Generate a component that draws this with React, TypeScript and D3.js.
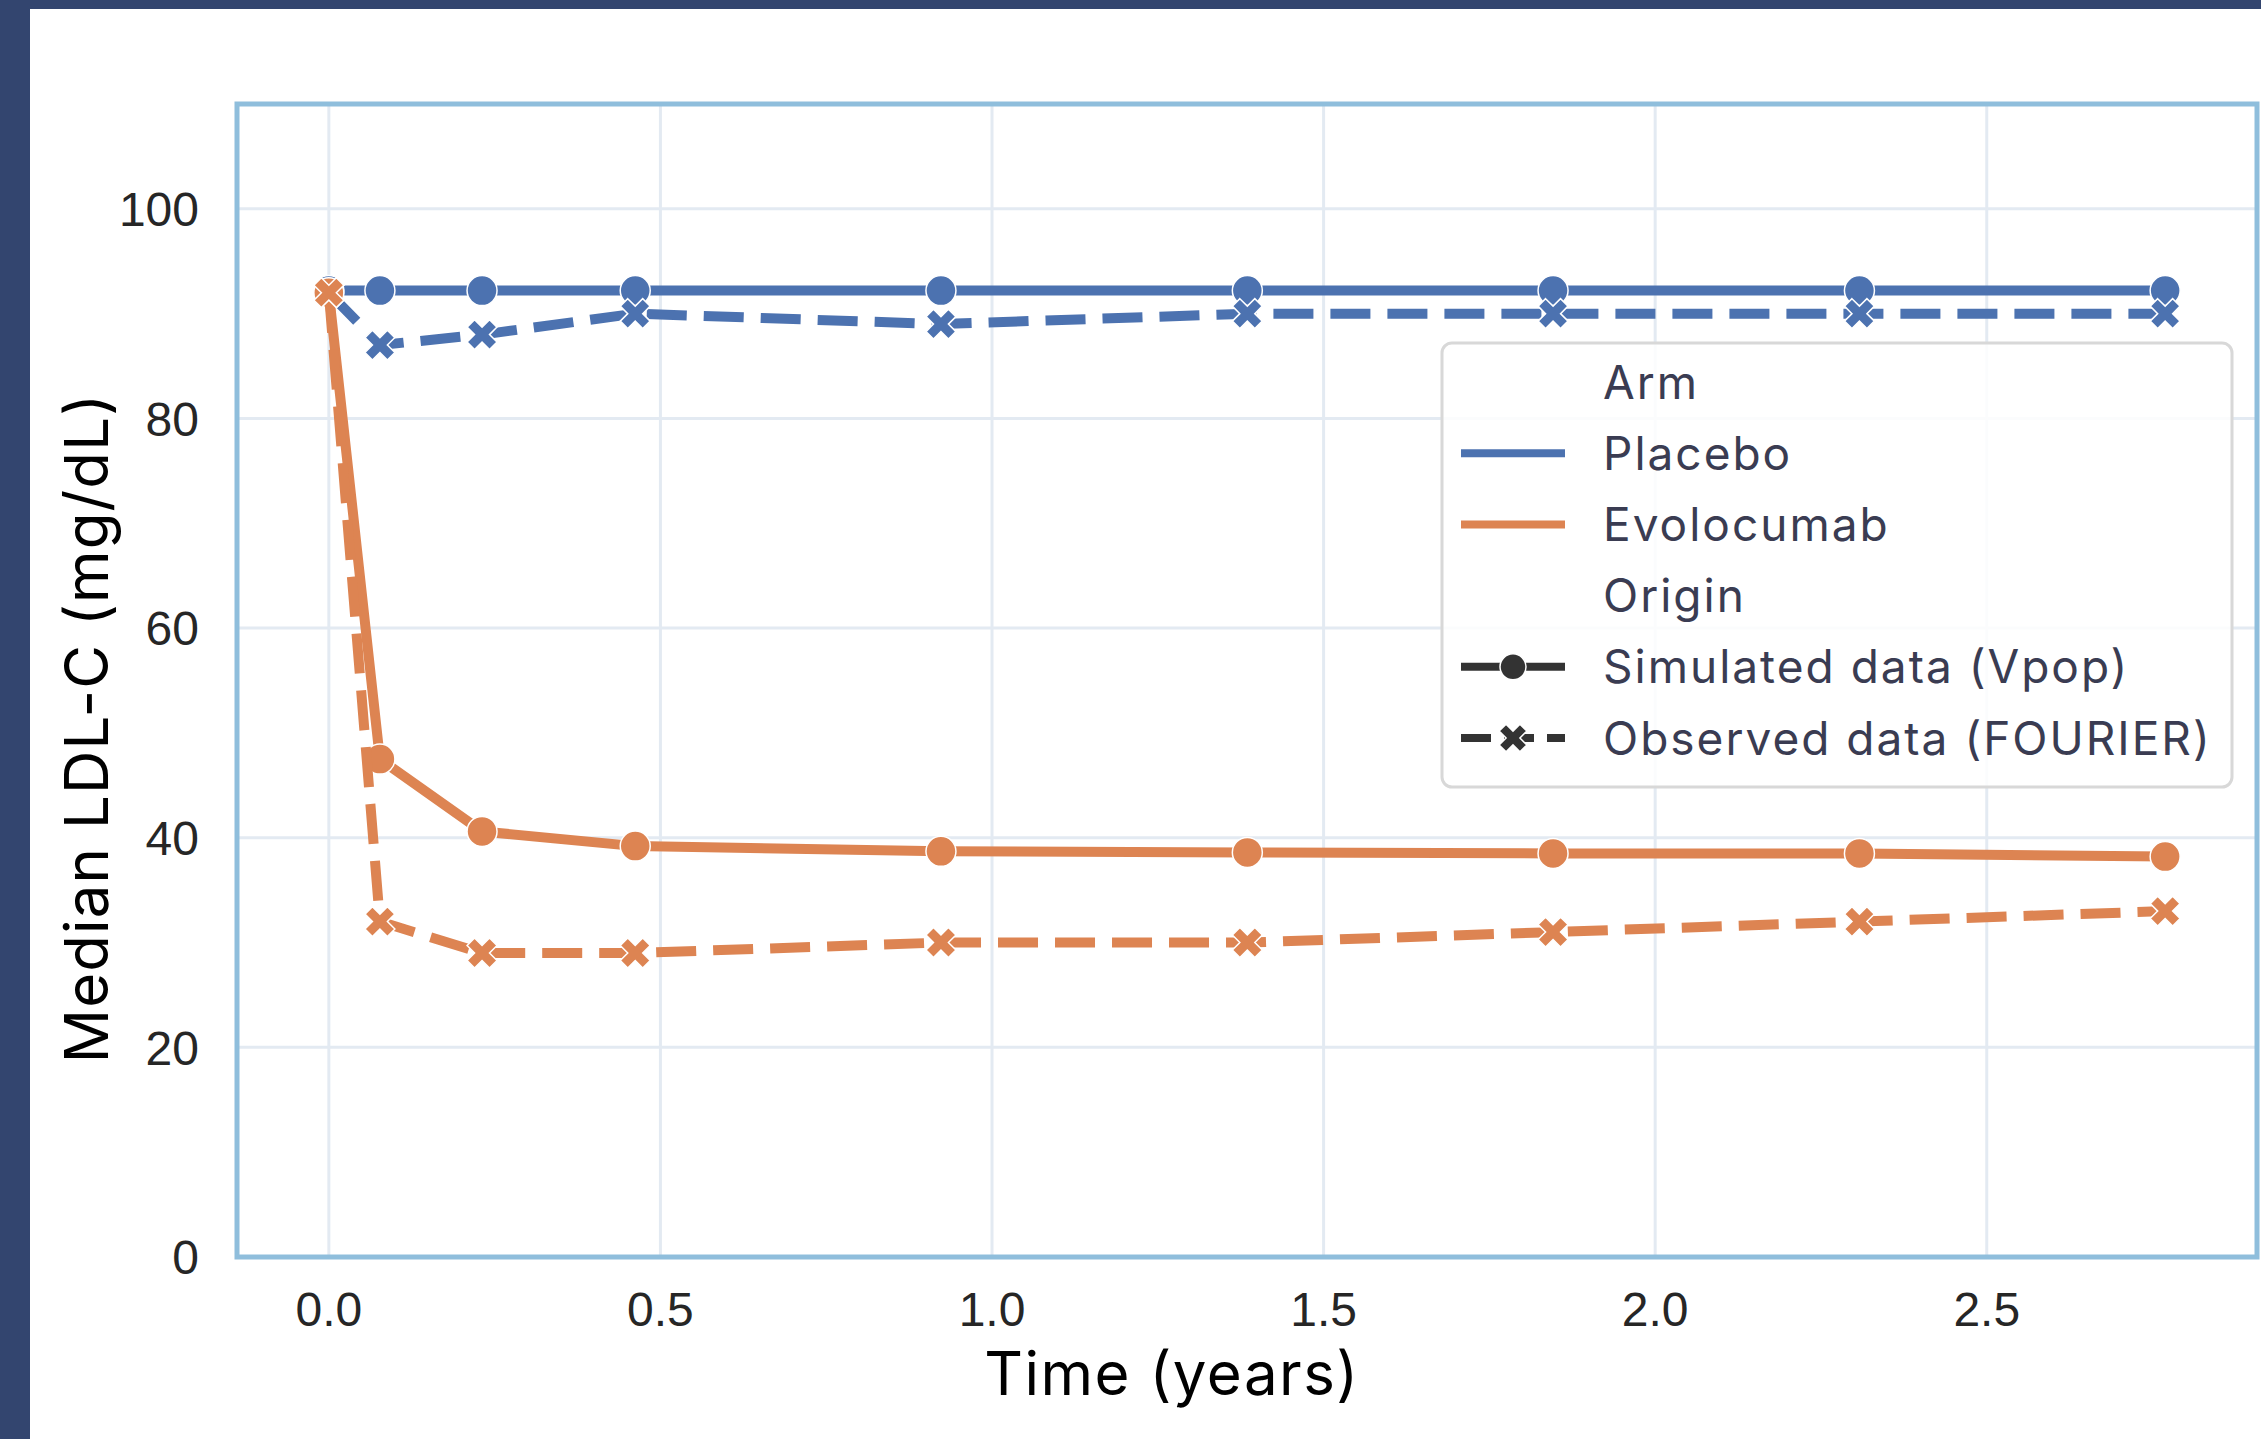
import React, { useRef, useEffect } from 'react';
import * as d3 from 'd3';

// time points (years) — 0, 4, 12, 24, 48, 72, 96, 120, 144 weeks
const timeYears = [0, 0.077, 0.231, 0.462, 0.923, 1.385, 1.846, 2.308, 2.769];

const placeboSim = [92.2, 92.2, 92.2, 92.2, 92.2, 92.2, 92.2, 92.2, 92.2];
const placeboObs = [92, 87, 88, 90, 89, 90, 90, 90, 90];
const evoSim = [92, 47.5, 40.6, 39.2, 38.7, 38.6, 38.5, 38.5, 38.2];
const evoObs = [92, 32, 29, 29, 30, 30, 31, 32, 33];

const xTicks = [0, 0.5, 1.0, 1.5, 2.0, 2.5];
const yTicks = [0, 20, 40, 60, 80, 100];

const legendRows = ['Arm', 'Placebo', 'Evolocumab', 'Origin', 'Simulated data (Vpop)', 'Observed data (FOURIER)'];

const BLUE = '#4c72b0';
const ORANGE = '#dd8452';

const App = () => {
  const ref = useRef(null);

  useEffect(() => {
    const svg = d3.select(ref.current);
    svg.selectAll('*').remove();

    const W = 2261, H = 1439;
    svg.attr('width', W).attr('height', H);

    // page background: navy strip on top and left
    svg.append('rect').attr('width', W).attr('height', H).attr('fill', '#33456f');
    svg.append('rect').attr('x', 30).attr('y', 9).attr('width', W - 30).attr('height', H - 9).attr('fill', '#ffffff');

    const left = 237, right = 2257, top = 104, bottom = 1257;
    const x = d3.scaleLinear().domain([-0.1385, 2.9075]).range([left, right]);
    const y = d3.scaleLinear().domain([0, 110]).range([bottom, top]);

    // grid
    const grid = svg.append('g').attr('stroke', '#e3eaf2').attr('stroke-width', 3);
    xTicks.forEach((t) => {
      grid.append('line').attr('x1', x(t)).attr('x2', x(t)).attr('y1', top).attr('y2', bottom);
    });
    yTicks.forEach((t) => {
      grid.append('line').attr('x1', left).attr('x2', right).attr('y1', y(t)).attr('y2', y(t));
    });

    // series
    const series = [
      { vals: placeboSim, color: BLUE, dashed: false },
      { vals: placeboObs, color: BLUE, dashed: true },
      { vals: evoSim, color: ORANGE, dashed: false },
      { vals: evoObs, color: ORANGE, dashed: true },
    ];

    const line = d3.line<number>()
      .x((d, i) => x(timeYears[i]))
      .y((d) => y(d));

    const xMark = d3.symbol().type(d3.symbolCross).size(560);

    series.forEach((s) => {
      const g = svg.append('g');
      g.append('path')
        .attr('d', line(s.vals))
        .attr('fill', 'none')
        .attr('stroke', s.color)
        .attr('stroke-width', 10)
        .attr('stroke-linejoin', 'round')
        .attr('stroke-dasharray', s.dashed ? '40,17' : null);

      s.vals.forEach((v, i) => {
        if (s.dashed) {
          g.append('path')
            .attr('d', xMark())
            .attr('transform', `translate(${x(timeYears[i])},${y(v)}) rotate(45)`)
            .attr('fill', s.color)
            .attr('stroke', '#ffffff')
            .attr('stroke-width', 1.5);
        } else {
          g.append('circle')
            .attr('cx', x(timeYears[i]))
            .attr('cy', y(v))
            .attr('r', 15)
            .attr('fill', s.color)
            .attr('stroke', '#ffffff')
            .attr('stroke-width', 1.5);
        }
      });
    });

    // frame
    svg.append('rect')
      .attr('x', left).attr('y', top)
      .attr('width', right - left).attr('height', bottom - top)
      .attr('fill', 'none')
      .attr('stroke', '#8fbedc')
      .attr('stroke-width', 5);

    // tick labels
    const tickFont = '"Liberation Sans", Arial, sans-serif';
    yTicks.forEach((t) => {
      svg.append('text')
        .attr('x', 199).attr('y', y(t))
        .attr('dy', '0.36em')
        .attr('text-anchor', 'end')
        .attr('font-family', tickFont)
        .attr('font-size', 48)
        .attr('fill', '#262626')
        .text(t);
    });
    xTicks.forEach((t) => {
      svg.append('text')
        .attr('x', x(t)).attr('y', 1309)
        .attr('dy', '0.36em')
        .attr('text-anchor', 'middle')
        .attr('font-family', tickFont)
        .attr('font-size', 48)
        .attr('fill', '#262626')
        .text(t.toFixed(1));
    });

    // axis labels
    svg.append('text')
      .attr('x', 1172).attr('y', 1373)
      .attr('dy', '0.36em')
      .attr('text-anchor', 'middle')
      .attr('font-family', 'Inter, sans-serif')
      .attr('font-size', 60)
      .attr('letter-spacing', 1.5)
      .attr('fill', '#000')
      .text('Time (years)');
    svg.append('text')
      .attr('transform', `translate(86,728) rotate(-90)`)
      .attr('dy', '0.36em')
      .attr('text-anchor', 'middle')
      .attr('font-family', 'Inter, sans-serif')
      .attr('font-size', 60)
      .attr('letter-spacing', 1.1)
      .attr('fill', '#000')
      .text('Median LDL-C (mg/dL)');

    // legend
    const lg = svg.append('g');
    lg.append('rect')
      .attr('x', 1442).attr('y', 343)
      .attr('width', 790).attr('height', 444)
      .attr('rx', 10)
      .attr('fill', '#ffffff').attr('fill-opacity', 0.85)
      .attr('stroke', '#d8d8d8').attr('stroke-width', 3);

    const rowY = (i) => 382 + i * 71.2;
    legendRows.forEach((label, i) => {
      lg.append('text')
        .attr('x', 1603).attr('y', rowY(i))
        .attr('dy', '0.36em')
        .attr('font-family', 'Inter, sans-serif')
        .attr('font-size', 46)
        .attr('letter-spacing', 2)
        .attr('fill', '#3a3c52')
        .text(label);
    });
    const h1 = 1461, h2 = 1565, hm = (h1 + h2) / 2;
    lg.append('line').attr('x1', h1).attr('x2', h2).attr('y1', rowY(1)).attr('y2', rowY(1))
      .attr('stroke', BLUE).attr('stroke-width', 8);
    lg.append('line').attr('x1', h1).attr('x2', h2).attr('y1', rowY(2)).attr('y2', rowY(2))
      .attr('stroke', ORANGE).attr('stroke-width', 8);
    lg.append('line').attr('x1', h1).attr('x2', h2).attr('y1', rowY(4)).attr('y2', rowY(4))
      .attr('stroke', '#333333').attr('stroke-width', 8);
    lg.append('circle').attr('cx', hm).attr('cy', rowY(4)).attr('r', 13)
      .attr('fill', '#333333').attr('stroke', '#ffffff').attr('stroke-width', 1.5);
    lg.append('line').attr('x1', h1).attr('x2', h2).attr('y1', rowY(5)).attr('y2', rowY(5))
      .attr('stroke', '#333333').attr('stroke-width', 8).attr('stroke-dasharray', '30,13');
    lg.append('path')
      .attr('d', d3.symbol().type(d3.symbolCross).size(480)())
      .attr('transform', `translate(${hm},${rowY(5)}) rotate(45)`)
      .attr('fill', '#333333').attr('stroke', '#ffffff').attr('stroke-width', 1.5);
  }, []);

  return <svg ref={ref} style={{ position: 'absolute', left: 0, top: 0 }}></svg>;
};

export default App;
